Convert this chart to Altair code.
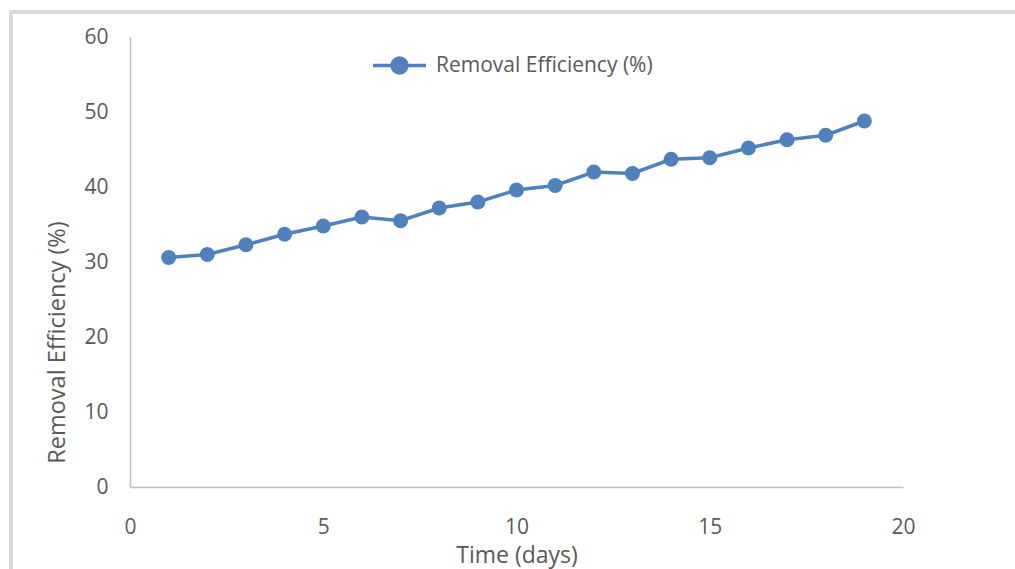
import altair as alt
import pandas as pd

days = list(range(1, 20))
efficiency = [30.6, 31.0, 32.3, 33.7, 34.8, 36.0, 35.5, 37.2, 38.0, 39.6,
              40.2, 42.0, 41.8, 43.7, 43.9, 45.2, 46.3, 46.9, 48.8]
series_name = "Removal Efficiency (%)"
x_ticks = [0, 5, 10, 15, 20]
y_ticks = [0, 10, 20, 30, 40, 50, 60]

BLUE = "#4F81BD"
TXT = "#595959"
FONT = "Open Sans"

df = pd.DataFrame({"day": days, "eff": efficiency, "series": [series_name] * len(days)})

color = alt.Color(
    "series:N",
    scale=alt.Scale(range=[BLUE]),
    legend=alt.Legend(
        title=None,
        orient="none",
        legendX=241,
        legendY=0,
        symbolType="M-1,0L-0.28,0M0.28,0L1,0M-0.28,0A0.28,0.28,0,1,1,0.28,0A0.28,0.28,0,1,1,-0.28,0Z",
        symbolSize=2809,
        symbolStrokeWidth=3.5,
        symbolStrokeColor=BLUE,
        symbolFillColor=BLUE,
        labelFont=FONT,
        labelFontSize=21,
        labelColor=TXT,
        labelOffset=8,
        labelLimit=0,
        padding=0,
    ),
)

x = alt.X("day:Q", scale=alt.Scale(domain=[0, 20], nice=False),
          axis=alt.Axis(values=x_ticks, title="Time (days)", grid=False, ticks=False,
                        domainColor="#BFBFBF", domainWidth=1.5, labelFlush=False,
                        labelFont=FONT, labelFontSize=21, labelColor=TXT, labelPadding=29,
                        titleFont=FONT, titleFontSize=23, titleColor=TXT, titleFontWeight="normal",
                        titleY=57, titleBaseline="top"))
y = alt.Y("eff:Q", scale=alt.Scale(domain=[0, 60], nice=False),
          axis=alt.Axis(values=y_ticks, title="Removal Efficiency (%)", grid=False, ticks=False,
                        domainColor="#BFBFBF", domainWidth=1.5, labelFlush=False,
                        labelFont=FONT, labelFontSize=21, labelColor=TXT, labelPadding=22,
                        titleFont=FONT, titleFontSize=23.5, titleColor=TXT, titleFontWeight="normal",
                        titleX=-73, titleY=305, titleBaseline="middle", titleAlign="center",
                        titleAngle=270))

line = alt.Chart(df).mark_line(strokeWidth=3.5).encode(x=x, y=y, color=color)
points = alt.Chart(df).mark_point(filled=True, size=225, shape="circle", opacity=1).encode(
    x=x, y=y, color=color)

frame = alt.Chart(df).mark_rect(fill=None, stroke="#D9D9D9", strokeWidth=2.5).encode(
    x=alt.value(-119), x2=alt.value(1000), y=alt.value(-25), y2=alt.value(600))

chart = alt.layer(frame, line, points).properties(
    width=773, height=450,
    autosize=alt.AutoSizeParams(type="none"),
    padding={"left": 130, "top": 37, "right": 112, "bottom": 82},
    background="white",
).configure_view(stroke=None)

chart.save("out.html", embed_options={"renderer": "svg", "actions": False})
